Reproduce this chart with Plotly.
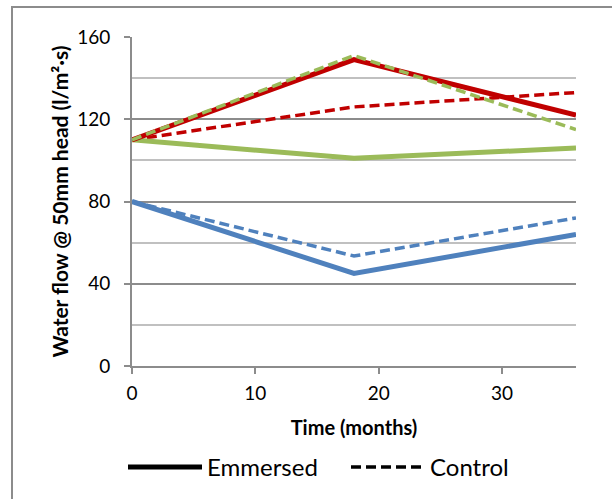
import plotly.graph_objects as go

months = [0, 18, 36]
red_emmersed = [110, 149, 122]
red_control = [110, 126, 133]
green_emmersed = [110, 101, 106]
green_control = [110, 151, 115]
blue_emmersed = [80, 45, 64]
blue_control = [80, 53.5, 72]

legend_names = ["Emmersed", "Control"]

RED = "#C00000"
GREEN = "#9BBB59"
BLUE = "#4F81BD"
FONT = "Lato"
DASH = "10px,5px"

fig = go.Figure()

series = [
    (blue_control, BLUE, DASH, 3.5),
    (blue_emmersed, BLUE, "solid", 5),
    (red_control, RED, DASH, 3.5),
    (green_emmersed, GREEN, "solid", 5),
    (red_emmersed, RED, "solid", 5),
    (green_control, GREEN, DASH, 3.5),
]
for ys, col, dash, w in series:
    fig.add_trace(go.Scatter(x=months, y=ys, mode="lines",
                             line=dict(color=col, dash=dash, width=w),
                             showlegend=False, hoverinfo="skip"))

fig.add_trace(go.Scatter(x=[None], y=[None], mode="lines", name=legend_names[0],
                         line=dict(color="black", width=5)))
fig.add_trace(go.Scatter(x=[None], y=[None], mode="lines", name=legend_names[1],
                         line=dict(color="black", width=3.5, dash="10px,5px")))

fig.update_layout(
    width=612, height=499,
    margin=dict(l=132, r=36, t=37, b=133, autoexpand=False),
    paper_bgcolor="white", plot_bgcolor="white",
    font=dict(family=FONT, color="#000000", size=18),
    showlegend=True,
    legend=dict(orientation="h", xref="container", x=123 / 612, xanchor="left",
                yref="container", y=(499 - 445) / 499, yanchor="top",
                font=dict(size=24, family=FONT), itemwidth=74,
                entrywidth=134, entrywidthmode="pixels",
                bgcolor="rgba(0,0,0,0)"),
    xaxis=dict(range=[0, 36], tickvals=[0, 10, 20, 30], showgrid=False,
               showline=True, linecolor="#8C8C8C", linewidth=2,
               ticks="outside", ticklen=6, tickcolor="#8C8C8C", tickwidth=2,
               ticklabelstandoff=3,
               zeroline=False, tickfont=dict(size=19),
               title=dict(text="<b>Time (months)</b>", font=dict(size=20), standoff=18)),
    yaxis=dict(range=[0, 160], tickvals=[0, 40, 80, 120, 160],
               showgrid=True, gridcolor="#8C8C8C", gridwidth=2,
               minor=dict(tickvals=[20, 60, 100, 140], showgrid=True,
                          gridcolor="#C0C0C0", gridwidth=2, ticks=""),
               showline=True, linecolor="#8C8C8C", linewidth=2,
               ticks="outside", ticklen=6, tickcolor="#8C8C8C", tickwidth=2,
               ticklabelstandoff=10,
               zeroline=False, tickfont=dict(size=19),
               title=dict(text="<b>Water flow @ 50mm head (l/m²·s)</b>",
                          font=dict(size=21), standoff=3)),
)

# outer chart border (extends beyond the visible page on right/bottom)
fig.add_shape(type="rect", xref="paper", yref="paper",
              x0=(12 - 132) / 444, x1=1.2, y0=-0.5, y1=(366 - 7) / 329,
              line=dict(color="#8C8C8C", width=2), fillcolor="rgba(0,0,0,0)",
              layer="below")

fig.write_html("out.html", config={"displayModeBar": False},
               post_script="document.body.style.margin='0';document.body.style.overflow='hidden';")
